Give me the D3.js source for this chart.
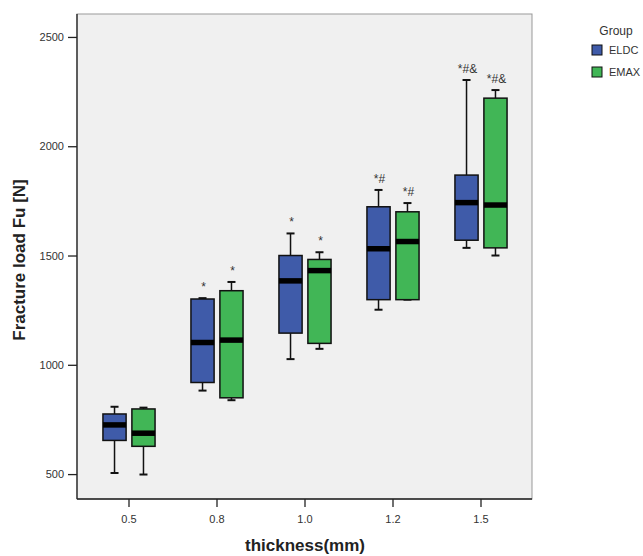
<!DOCTYPE html>
<html>
<head>
<meta charset="utf-8">
<script src="https://cdn.jsdelivr.net/npm/d3@7"></script>
<style>
  body { margin: 0; background: #fff; }
  text { font-family: "Liberation Sans", Arial, sans-serif; }
</style>
</head>
<body>
<svg id="chart" width="643" height="556"></svg>
<script>
'use strict';

// data
var thickness = ["0.5", "0.8", "1.0", "1.2", "1.5"];
var groups = ["ELDC", "EMAX"];
var groupColors = ["#3f5ba9", "#41b656"];

// five-number summaries per thickness
var eldcMin    = [505, 882, 1026, 1252, 1535];
var eldcQ1     = [654, 919, 1145, 1298, 1570];
var eldcMedian = [725, 1102, 1384, 1531, 1742];
var eldcQ3     = [775, 1301, 1500, 1723, 1868];
var eldcMax    = [808, 1305, 1601, 1800, 2303];

var emaxMin    = [498, 838, 1073, 1298, 1500];
var emaxQ1     = [627, 849, 1098, 1298, 1535];
var emaxMedian = [687, 1113, 1431, 1564, 1731];
var emaxQ3     = [798, 1339, 1482, 1700, 2220];
var emaxMax    = [804, 1379, 1515, 1740, 2257];

var eldcMarks = ["", "*", "*", "*#", "*#&"];
var emaxMarks = ["", "*", "*", "*#", "*#&"];

var yTicks = [500, 1000, 1500, 2000, 2500];

var series = [
  { name: "ELDC", min: eldcMin, q1: eldcQ1, med: eldcMedian, q3: eldcQ3, max: eldcMax, marks: eldcMarks },
  { name: "EMAX", min: emaxMin, q1: emaxQ1, med: emaxMedian, q3: emaxQ3, max: emaxMax, marks: emaxMarks }
];

var svg = d3.select("#chart");

var plot = { left: 77, right: 532, top: 14, bottom: 499 };

var x = d3.scaleBand()
  .domain(thickness)
  .range([85, 525]);

var sub = d3.scaleBand()
  .domain(groups)
  .range([0, x.bandwidth()])
  .paddingInner(0.2)
  .paddingOuter(0.62);

var y = d3.scaleLinear()
  .domain([386, 2605])
  .range([plot.bottom, plot.top]);

var color = d3.scaleOrdinal().domain(groups).range(groupColors);

// plot background
svg.append("rect")
  .attr("x", plot.left)
  .attr("y", plot.top)
  .attr("width", plot.right - plot.left)
  .attr("height", plot.bottom - plot.top)
  .attr("fill", "#f0f0f0")
  .attr("stroke", "#999")
  .attr("stroke-width", 1);

// axes
var yAxis = svg.append("g")
  .attr("transform", "translate(" + plot.left + ",0)")
  .call(d3.axisLeft(y).tickValues(yTicks).tickSize(9).tickPadding(4).tickFormat(d3.format("d")));
yAxis.select(".domain").attr("d", "M0," + plot.top + "V" + plot.bottom).attr("stroke", "#222").attr("stroke-width", 1.3);
yAxis.selectAll(".tick line").attr("stroke", "#222").attr("stroke-width", 1.3);
yAxis.selectAll(".tick text").attr("font-size", 11).attr("fill", "#333")
  .attr("font-family", "'Liberation Sans', Arial, sans-serif");

var xAxis = svg.append("g")
  .attr("transform", "translate(0," + plot.bottom + ")")
  .call(d3.axisBottom(x).tickSize(8).tickPadding(8));
xAxis.select(".domain").attr("d", "M" + plot.left + ",0H" + plot.right).attr("stroke", "#222").attr("stroke-width", 1.3);
xAxis.selectAll(".tick line").attr("stroke", "#222").attr("stroke-width", 1.3);
xAxis.selectAll(".tick text").attr("font-size", 11).attr("fill", "#333")
  .attr("font-family", "'Liberation Sans', Arial, sans-serif");

// boxes
var boxData = [];
series.forEach(function (s) {
  thickness.forEach(function (t, i) {
    boxData.push({
      group: s.name, t: t,
      min: s.min[i], q1: s.q1[i], med: s.med[i], q3: s.q3[i], max: s.max[i],
      mark: s.marks[i]
    });
  });
});

var bw = sub.bandwidth();
var capW = 8;

var box = svg.append("g").selectAll("g")
  .data(boxData)
  .enter().append("g")
  .attr("transform", function (d) { return "translate(" + (x(d.t) + sub(d.group)) + ",0)"; });

// whiskers
box.append("line")
  .attr("x1", bw / 2).attr("x2", bw / 2)
  .attr("y1", function (d) { return y(d.max); })
  .attr("y2", function (d) { return y(d.q3); })
  .attr("stroke", "#111").attr("stroke-width", 1.5);
box.append("line")
  .attr("x1", bw / 2).attr("x2", bw / 2)
  .attr("y1", function (d) { return y(d.q1); })
  .attr("y2", function (d) { return y(d.min); })
  .attr("stroke", "#111").attr("stroke-width", 1.5);
box.append("line")
  .attr("x1", bw / 2 - capW / 2).attr("x2", bw / 2 + capW / 2)
  .attr("y1", function (d) { return y(d.max); })
  .attr("y2", function (d) { return y(d.max); })
  .attr("stroke", "#111").attr("stroke-width", 2);
box.append("line")
  .attr("x1", bw / 2 - capW / 2).attr("x2", bw / 2 + capW / 2)
  .attr("y1", function (d) { return y(d.min); })
  .attr("y2", function (d) { return y(d.min); })
  .attr("stroke", "#111").attr("stroke-width", 2);

box.append("rect")
  .attr("x", 0)
  .attr("width", bw)
  .attr("y", function (d) { return y(d.q3); })
  .attr("height", function (d) { return y(d.q1) - y(d.q3); })
  .attr("fill", function (d) { return color(d.group); })
  .attr("stroke", "#111")
  .attr("stroke-width", 1.5);

box.append("line")
  .attr("x1", 0).attr("x2", bw)
  .attr("y1", function (d) { return y(d.med); })
  .attr("y2", function (d) { return y(d.med); })
  .attr("stroke", "#000").attr("stroke-width", 5.5);

// significance marks
box.append("text")
  .attr("x", bw / 2 + 1)
  .attr("y", function (d) { return y(d.max) - 7; })
  .attr("text-anchor", "middle")
  .attr("font-size", 12)
  .attr("fill", "#333")
  .text(function (d) { return d.mark; });

// axis titles
svg.append("text")
  .attr("transform", "translate(25,260) rotate(-90)")
  .attr("text-anchor", "middle")
  .attr("font-size", 17)
  .attr("font-weight", "bold")
  .attr("fill", "#222")
  .text("Fracture load Fu [N]");

svg.append("text")
  .attr("x", 305)
  .attr("y", 551)
  .attr("text-anchor", "middle")
  .attr("font-size", 17)
  .attr("font-weight", "bold")
  .attr("fill", "#222")
  .text("thickness(mm)");

// legend
var legend = svg.append("g").attr("transform", "translate(592,0)");
legend.append("text")
  .attr("x", 24).attr("y", 35)
  .attr("text-anchor", "middle")
  .attr("font-size", 12)
  .attr("fill", "#333")
  .text("Group");
var li = legend.selectAll("g.item")
  .data(groups)
  .enter().append("g")
  .attr("class", "item")
  .attr("transform", function (d, i) { return "translate(0," + (45 + i * 22) + ")"; });
li.append("rect")
  .attr("width", 10).attr("height", 10)
  .attr("fill", function (d) { return color(d); })
  .attr("stroke", "#111").attr("stroke-width", 1);
li.append("text")
  .attr("x", 17).attr("y", 9)
  .attr("font-size", 11)
  .attr("fill", "#333")
  .text(function (d) { return d; });
</script>
</body>
</html>
